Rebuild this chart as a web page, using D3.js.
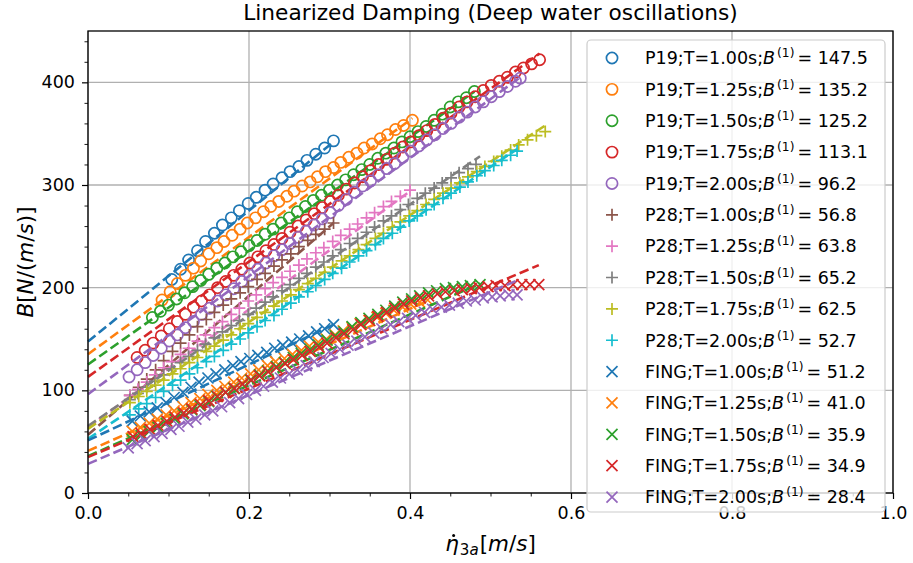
<!DOCTYPE html>
<html>
<head>
<meta charset="utf-8">
<script src="https://cdnjs.cloudflare.com/ajax/libs/d3/7.8.5/d3.min.js"></script>
<style>
  body { margin: 0; background: #fff; }
  svg text { font-family: "DejaVu Sans", sans-serif; fill: #000; }
</style>
</head>
<body>
<div id="chart"></div>
<script>
// ---- data ----
const groupNames = ['P19', 'P28', 'FING'];
const periods = ['1.00', '1.25', '1.50', '1.75', '2.00'];
const b1Values = [
  [147.5, 135.2, 125.2, 113.1, 96.2],
  [56.8, 63.8, 65.2, 62.5, 52.7],
  [51.2, 41.0, 35.9, 34.9, 28.4]
];
const xTicks = [0.0, 0.2, 0.4, 0.6, 0.8, 1.0];
const yTicks = [0, 100, 200, 300, 400];

// P19 (circles)
const p19T100 = [[0.104,208],[0.115,218],[0.125,227],[0.136,236],[0.146,245],[0.157,253],[0.167,261],[0.178,268],[0.188,275],[0.199,282],[0.209,288],[0.220,295],[0.230,301],[0.241,307],[0.251,313],[0.262,318],[0.272,324],[0.283,330],[0.294,336],[0.305,343]];
const p19T125 = [[0.092,188],[0.102,196],[0.111,204],[0.121,212],[0.131,219],[0.140,226],[0.150,233],[0.160,239],[0.169,245],[0.179,251],[0.189,257],[0.198,263],[0.208,268],[0.218,274],[0.227,279],[0.237,284],[0.247,289],[0.256,294],[0.266,299],[0.276,303],[0.285,308],[0.295,313],[0.305,317],[0.314,322],[0.324,327],[0.334,331],[0.343,336],[0.353,340],[0.363,345],[0.372,349],[0.382,354],[0.392,358],[0.403,363]];
const p19T150 = [[0.080,171],[0.090,177],[0.100,183],[0.110,189],[0.120,195],[0.130,201],[0.140,207],[0.150,213],[0.160,219],[0.170,224],[0.180,230],[0.190,235],[0.200,241],[0.210,246],[0.220,252],[0.230,257],[0.240,263],[0.250,268],[0.260,274],[0.270,279],[0.280,285],[0.290,290],[0.300,295],[0.310,300],[0.320,305],[0.330,310],[0.340,315],[0.350,320],[0.360,326],[0.370,331],[0.380,336],[0.390,342],[0.400,347],[0.410,352],[0.420,357],[0.430,363],[0.440,369],[0.450,376],[0.460,381],[0.470,385],[0.480,391]];
const p19T175 = [[0.061,132],[0.071,139],[0.081,146],[0.091,153],[0.101,160],[0.111,167],[0.121,174],[0.131,181],[0.141,187],[0.151,193],[0.161,200],[0.171,206],[0.181,212],[0.191,218],[0.201,224],[0.211,230],[0.221,236],[0.231,242],[0.241,248],[0.251,254],[0.261,260],[0.271,266],[0.281,272],[0.291,278],[0.301,284],[0.311,290],[0.321,296],[0.331,302],[0.341,308],[0.351,314],[0.361,320],[0.371,325],[0.381,331],[0.391,337],[0.401,342],[0.411,348],[0.421,353],[0.431,359],[0.441,365],[0.451,370],[0.461,376],[0.471,381],[0.481,386],[0.491,392],[0.501,397],[0.511,401],[0.521,405],[0.531,410],[0.541,414],[0.551,418],[0.561,422]];
const p19T200 = [[0.051,113],[0.061,120],[0.071,127],[0.081,134],[0.091,141],[0.101,148],[0.111,154],[0.121,161],[0.131,167],[0.141,174],[0.151,180],[0.161,187],[0.171,193],[0.181,199],[0.191,206],[0.201,212],[0.211,218],[0.221,224],[0.231,231],[0.241,237],[0.251,243],[0.261,249],[0.271,255],[0.281,261],[0.291,267],[0.301,273],[0.311,280],[0.321,286],[0.331,293],[0.341,299],[0.351,304],[0.361,310],[0.371,316],[0.381,321],[0.391,327],[0.401,333],[0.411,338],[0.421,344],[0.431,349],[0.441,355],[0.451,360],[0.461,366],[0.471,371],[0.481,376],[0.491,381],[0.501,386],[0.511,391],[0.521,396],[0.531,401],[0.537,404]];

// P28 (plus)
const p28T100 = [[0.052,95],[0.063,103],[0.073,111],[0.084,120],[0.094,129],[0.105,138],[0.115,146],[0.126,154],[0.136,162],[0.147,169],[0.157,176],[0.168,183],[0.178,189],[0.189,195],[0.199,201],[0.210,208],[0.220,214],[0.231,221],[0.241,227],[0.252,233],[0.262,240],[0.273,246],[0.283,252],[0.294,257],[0.305,263]];
const p28T125 = [[0.052,95],[0.062,101],[0.073,108],[0.083,115],[0.094,122],[0.104,128],[0.115,135],[0.125,141],[0.136,148],[0.146,154],[0.157,161],[0.167,167],[0.178,174],[0.188,180],[0.199,187],[0.209,193],[0.220,199],[0.230,205],[0.241,210],[0.251,216],[0.262,222],[0.272,228],[0.283,234],[0.293,239],[0.304,245],[0.314,251],[0.325,257],[0.335,262],[0.346,268],[0.356,273],[0.367,279],[0.377,284],[0.388,289],[0.400,295]];
const p28T150 = [[0.052,91],[0.062,97],[0.073,103],[0.083,109],[0.094,115],[0.104,121],[0.115,127],[0.125,133],[0.136,139],[0.146,145],[0.157,151],[0.167,157],[0.178,163],[0.188,168],[0.199,174],[0.209,180],[0.220,186],[0.230,191],[0.241,197],[0.251,203],[0.262,209],[0.272,214],[0.283,220],[0.293,225],[0.304,231],[0.314,237],[0.325,243],[0.335,248],[0.346,254],[0.356,259],[0.367,265],[0.377,270],[0.388,276],[0.398,281],[0.409,287],[0.419,292],[0.430,297],[0.440,302],[0.451,307],[0.461,312],[0.472,316],[0.482,320]];
const p28T175 = [[0.052,88],[0.063,94],[0.073,99],[0.084,105],[0.094,110],[0.105,116],[0.115,121],[0.126,127],[0.136,132],[0.147,138],[0.157,143],[0.168,149],[0.178,154],[0.189,160],[0.199,165],[0.210,171],[0.220,176],[0.231,182],[0.241,187],[0.252,193],[0.262,198],[0.273,204],[0.283,209],[0.294,215],[0.304,220],[0.315,226],[0.325,231],[0.336,237],[0.346,242],[0.357,248],[0.367,253],[0.378,259],[0.388,264],[0.399,270],[0.409,275],[0.420,281],[0.430,286],[0.441,292],[0.451,297],[0.462,302],[0.472,308],[0.483,313],[0.493,318],[0.504,323],[0.514,328],[0.525,334],[0.535,339],[0.546,344],[0.557,348],[0.568,352]];
const p28T200 = [[0.052,76],[0.063,82],[0.073,87],[0.084,93],[0.094,99],[0.105,105],[0.115,110],[0.126,116],[0.136,122],[0.147,128],[0.157,133],[0.168,139],[0.178,145],[0.189,150],[0.199,156],[0.210,162],[0.220,168],[0.231,173],[0.241,179],[0.252,185],[0.262,191],[0.273,196],[0.283,202],[0.294,208],[0.304,214],[0.315,219],[0.325,225],[0.336,231],[0.346,236],[0.357,242],[0.367,248],[0.378,253],[0.388,259],[0.399,265],[0.409,270],[0.420,276],[0.430,281],[0.441,287],[0.451,292],[0.462,298],[0.472,303],[0.483,309],[0.493,314],[0.504,319],[0.514,324],[0.525,329],[0.533,333]];

// FING (x)
const fingT100 = [[0.055,70],[0.065,75],[0.076,79],[0.086,83],[0.097,88],[0.107,93],[0.118,98],[0.128,103],[0.138,108],[0.149,112],[0.159,116],[0.170,120],[0.180,124],[0.190,128],[0.201,131],[0.211,134],[0.222,137],[0.232,141],[0.242,144],[0.253,147],[0.263,150],[0.274,153],[0.284,157],[0.294,160],[0.305,164]];
const fingT125 = [[0.055,60],[0.065,64],[0.076,68],[0.086,72],[0.097,76],[0.107,80],[0.118,84],[0.128,88],[0.139,92],[0.149,96],[0.160,100],[0.170,104],[0.181,108],[0.191,112],[0.202,116],[0.212,120],[0.223,124],[0.233,128],[0.244,131],[0.254,135],[0.265,139],[0.275,143],[0.286,147],[0.296,150],[0.307,154],[0.317,158],[0.328,161],[0.338,165],[0.349,168],[0.359,171],[0.370,175],[0.380,178],[0.391,181],[0.401,184],[0.412,186],[0.422,188]];
const fingT150 = [[0.055,52],[0.066,56],[0.076,60],[0.087,64],[0.097,68],[0.108,72],[0.118,77],[0.129,81],[0.139,85],[0.150,89],[0.160,94],[0.171,98],[0.181,102],[0.192,106],[0.202,110],[0.213,115],[0.223,119],[0.234,123],[0.244,127],[0.255,132],[0.265,136],[0.276,140],[0.286,144],[0.297,149],[0.307,153],[0.318,157],[0.328,162],[0.339,166],[0.349,170],[0.360,174],[0.370,178],[0.381,182],[0.391,186],[0.402,189],[0.412,192],[0.423,195],[0.433,197],[0.444,199],[0.454,200],[0.465,201],[0.475,202],[0.487,203]];
const fingT175 = [[0.056,55],[0.066,58],[0.077,62],[0.087,66],[0.098,70],[0.108,74],[0.119,78],[0.129,82],[0.140,86],[0.150,90],[0.161,94],[0.171,98],[0.182,102],[0.192,106],[0.203,110],[0.213,114],[0.224,118],[0.234,122],[0.245,126],[0.255,130],[0.266,134],[0.276,138],[0.287,142],[0.297,146],[0.308,151],[0.318,155],[0.329,159],[0.339,164],[0.350,168],[0.360,172],[0.371,176],[0.381,180],[0.392,184],[0.402,187],[0.413,190],[0.423,192],[0.434,194],[0.444,196],[0.455,197],[0.465,198],[0.476,199],[0.486,200],[0.497,201],[0.507,202],[0.518,202],[0.528,203],[0.539,203],[0.549,203],[0.560,203]];
const fingT200 = [[0.050,44],[0.061,48],[0.071,51],[0.082,55],[0.092,58],[0.103,62],[0.113,65],[0.124,69],[0.134,72],[0.145,76],[0.155,80],[0.166,84],[0.176,88],[0.187,92],[0.197,96],[0.208,100],[0.218,104],[0.229,108],[0.239,112],[0.250,116],[0.260,120],[0.271,124],[0.281,128],[0.292,132],[0.302,136],[0.313,140],[0.323,144],[0.334,148],[0.344,152],[0.355,156],[0.365,160],[0.376,164],[0.386,167],[0.397,170],[0.407,173],[0.418,176],[0.428,179],[0.439,181],[0.449,183],[0.460,185],[0.470,187],[0.481,188],[0.491,190],[0.502,191],[0.512,192],[0.523,193],[0.533,193]];

const groupData = [
  [p19T100, p19T125, p19T150, p19T175, p19T200],
  [p28T100, p28T125, p28T150, p28T175, p28T200],
  [fingT100, fingT125, fingT150, fingT175, fingT200]
];

// end point of each dashed fit line (starts at x=0, y=B(1))
const fitEnds = [
  [[0.305,342],[0.403,365],[0.480,391],[0.561,428],[0.537,405]],
  [[0.305,263],[0.400,294],[0.487,328],[0.568,358],[0.533,335]],
  [[0.305,164],[0.422,187],[0.487,204],[0.560,222],[0.533,207]]
];

const tab10 = ['#1f77b4','#ff7f0e','#2ca02c','#d62728','#9467bd','#8c564b','#e377c2','#7f7f7f','#bcbd22','#17becf'];
const groupColorOffset = [0, 5, 0];
const groupMarker = ['circle', 'plus', 'cross'];

// ---- layout ----
const W = 913, H = 563;
const plot = { left: 88, right: 893, top: 31, bottom: 493 };
const FS = 17.5;   // ticks + legend
const LFS = 21.5;  // axis labels

const svg = d3.select('#chart').append('svg')
  .attr('width', W).attr('height', H)
  .attr('viewBox', `0 0 ${W} ${H}`);

const x = d3.scaleLinear().domain([0, 1]).range([plot.left, plot.right]);
const y = d3.scaleLinear().domain([0, 450]).range([plot.bottom, plot.top]);

// grid
const gridG = svg.append('g');
xTicks.forEach(t => {
  gridG.append('line')
    .attr('x1', x(t)).attr('x2', x(t)).attr('y1', plot.top).attr('y2', plot.bottom)
    .attr('stroke', '#b0b0b0').attr('stroke-width', 1.3);
});
yTicks.forEach(t => {
  gridG.append('line')
    .attr('x1', plot.left).attr('x2', plot.right).attr('y1', y(t)).attr('y2', y(t))
    .attr('stroke', '#b0b0b0').attr('stroke-width', 1.3);
});

// markers + fit lines
function markerPath(type) {
  if (type === 'plus') return 'M-6,0H6M0,-6V6';
  if (type === 'cross') return 'M-5.5,-5.5L5.5,5.5M-5.5,5.5L5.5,-5.5';
  return null;
}

function drawMarker(g, type, cx, cy, color) {
  if (type === 'circle') {
    g.append('circle').attr('cx', cx).attr('cy', cy).attr('r', 5.6)
      .attr('fill', 'none').attr('stroke', color).attr('stroke-width', 1.7);
  } else {
    g.append('path').attr('d', markerPath(type))
      .attr('transform', `translate(${cx},${cy})`)
      .attr('fill', 'none').attr('stroke', color).attr('stroke-width', 1.7);
  }
}

const dataG = svg.append('g');
const line = d3.line().x(d => x(d[0])).y(d => y(d[1]));

groupData.forEach((series, gi) => {
  series.forEach((pts, si) => {
    const color = tab10[groupColorOffset[gi] + si];
    const sg = dataG.append('g');
    pts.forEach(p => drawMarker(sg, groupMarker[gi], x(p[0]), y(p[1]), color));
    const fit = [[0, b1Values[gi][si]], fitEnds[gi][si]];
    sg.append('path').attr('d', line(fit))
      .attr('fill', 'none').attr('stroke', color).attr('stroke-width', 2.6)
      .attr('stroke-dasharray', '9.6,4.2');
  });
});

// axes
const xAxis = svg.append('g').attr('transform', `translate(0,${plot.bottom})`)
  .call(d3.axisBottom(x).tickValues(xTicks).tickFormat(d3.format('.1f')).tickSize(6).tickPadding(8));
const xMinor = svg.append('g').attr('transform', `translate(0,${plot.bottom})`)
  .call(d3.axisBottom(x).tickValues(d3.range(0, 1.0001, 0.05).filter(v => Math.abs(v * 5 - Math.round(v * 5)) > 1e-6)).tickFormat('').tickSize(3.5));
const yAxis = svg.append('g').attr('transform', `translate(${plot.left},0)`)
  .call(d3.axisLeft(y).tickValues(yTicks).tickSize(6).tickPadding(7));
const yMinor = svg.append('g').attr('transform', `translate(${plot.left},0)`)
  .call(d3.axisLeft(y).tickValues(d3.range(0, 451, 20).filter(v => v % 100 !== 0)).tickFormat('').tickSize(3.5));

[xAxis, xMinor, yAxis, yMinor].forEach(a => {
  a.select('.domain').remove();
  a.selectAll('line').attr('stroke', '#000').attr('stroke-width', 1.2);
  a.selectAll('text').attr('font-size', FS).attr('font-family', 'DejaVu Sans').attr('fill', '#000');
});
[xMinor, yMinor].forEach(a => a.selectAll('line').attr('stroke-width', 0.9));

// spines
svg.append('rect')
  .attr('x', plot.left).attr('y', plot.top)
  .attr('width', plot.right - plot.left).attr('height', plot.bottom - plot.top)
  .attr('fill', 'none').attr('stroke', '#000').attr('stroke-width', 1.3);

// title
svg.append('text')
  .attr('x', (plot.left + plot.right) / 2).attr('y', 20)
  .attr('text-anchor', 'middle').attr('font-size', 21.7)
  .text('Linearized Damping (Deep water oscillations)');

// y label: B[N/(m/s)]
const yl = svg.append('text')
  .attr('transform', `translate(33,${(plot.top + plot.bottom) / 2}) rotate(-90)`)
  .attr('text-anchor', 'middle').attr('font-size', LFS);
[['B', true], ['[', false], ['N', true], ['/(', false], ['m', true], ['/', false], ['s', true], [')]', false]]
  .forEach(([t, it]) => yl.append('tspan').attr('font-style', it ? 'italic' : 'normal').text(t));

// x label: eta-dot_{3a}[m/s]
const xl = svg.append('text')
  .attr('x', 0).attr('y', 551).attr('font-size', LFS);
xl.append('tspan').attr('font-style', 'italic').text('\u03B7');
xl.append('tspan').attr('font-size', LFS * 0.7).attr('dy', 4).attr('dx', 1).text('3');
xl.append('tspan').attr('font-size', LFS * 0.7).attr('font-style', 'italic').text('a');
xl.append('tspan').attr('dy', -4).attr('dx', 1).text('[');
xl.append('tspan').attr('font-style', 'italic').text('m');
xl.append('tspan').text('/');
xl.append('tspan').attr('font-style', 'italic').text('s');
xl.append('tspan').text(']');
const xlBox = xl.node().getBBox();
xl.attr('x', (plot.left + plot.right) / 2 - xlBox.width / 2);
const etaBox = xl.node().getExtentOfChar(0);
// the dot over eta
svg.append('circle')
  .attr('cx', etaBox.x + etaBox.width * 0.62).attr('cy', 551 - LFS * 0.72)
  .attr('r', 1.5).attr('fill', '#000');

// legend
const legG = svg.append('g');
legG.append('rect')
  .attr('x', 587).attr('y', 40).attr('width', 298).attr('height', 472)
  .attr('rx', 4).attr('ry', 4)
  .attr('fill', '#fff').attr('fill-opacity', 0.8)
  .attr('stroke', '#cccccc').attr('stroke-width', 1.2);

let row = 0;
groupNames.forEach((name, gi) => {
  periods.forEach((per, si) => {
    const cy = 58 + row * 31.36;
    const color = tab10[groupColorOffset[gi] + si];
    drawMarker(legG, groupMarker[gi], 612, cy, color);
    const t = legG.append('text').attr('x', 645).attr('y', cy + 6.3).attr('font-size', FS);
    t.append('tspan').text(`${name};T=${per}s;`);
    t.append('tspan').attr('font-style', 'italic').text('B');
    t.append('tspan').attr('font-size', FS * 0.7).attr('dy', -7).attr('dx', 2).text('(1)');
    t.append('tspan').attr('dy', 7).attr('dx', 3).attr('xml:space', 'preserve').text('= ' + b1Values[gi][si].toFixed(1));
    row++;
  });
});
</script>
</body>
</html>
